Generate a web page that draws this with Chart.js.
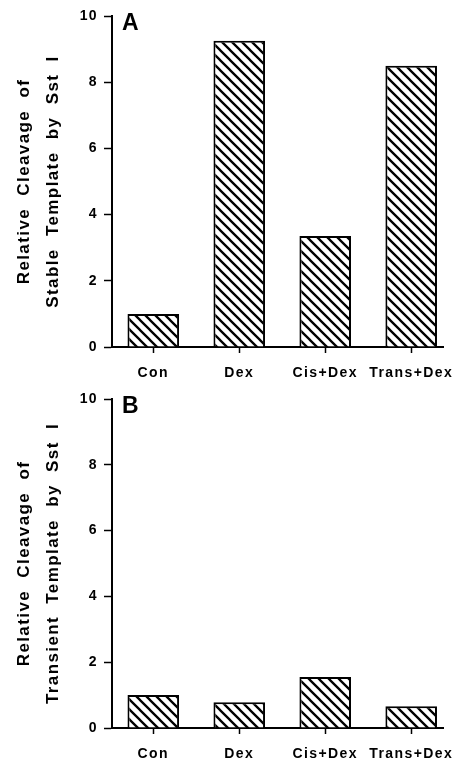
<!DOCTYPE html>
<html>
<head>
<meta charset="utf-8">
<script src="https://cdn.jsdelivr.net/npm/chart.js@4"></script>
<style>
  body { margin: 0; background: #fff; }
  .panel { position: absolute; left: 0; width: 462px; height: 380px; }
</style>
</head>
<body>
<div class="panel" style="top:0"><canvas id="chartA" width="462" height="380"></canvas></div>
<div class="panel" style="top:380px"><canvas id="chartB" width="462" height="380"></canvas></div>
<script>
// categories and values
const categories = ['Con', 'Dex', 'Cis+Dex', 'Trans+Dex'];
const stableValues = [1.0, 9.25, 3.35, 8.5];
const transientValues = [1.0, 0.78, 1.55, 0.66];
const yTicks = [0, 2, 4, 6, 8, 10];

const FONT = '"Liberation Sans", Arial, Helvetica, sans-serif';

// diagonal hatch "\\\\" like the printed bars
function makeHatch() {
    const s = 10;
    const c = document.createElement('canvas');
    c.width = s;
    c.height = s;
    const g = c.getContext('2d');
    g.fillStyle = '#fff';
    g.fillRect(0, 0, s, s);
    g.strokeStyle = '#000';
    g.lineWidth = 2.3;
    g.beginPath();
    g.moveTo(-1, -1); g.lineTo(s + 1, s + 1);
    g.moveTo(-1, s - 1); g.lineTo(1, s + 1);
    g.moveTo(s - 1, -1); g.lineTo(s + 1, 1);
    g.stroke();
    return g.createPattern(c, 'repeat');
}

const panelLetter = {
    id: 'panelLetter',
    beforeDraw(chart) {
        chart.ctx.letterSpacing = '1.4px';
    },
    afterDraw(chart, args, opts) {
        const ctx = chart.ctx;
        ctx.save();
        ctx.font = 'bold 23px ' + FONT;
        ctx.fillStyle = '#000';
        ctx.textBaseline = 'alphabetic';
        ctx.textAlign = 'left';
        ctx.fillText(opts.text, chart.chartArea.left + 10, chart.chartArea.top + 14);
        ctx.restore();
    }
};

function makeChart(id, values, letter, titleLines, padTop, xHeight) {
    const ctx = document.getElementById(id).getContext('2d');
    return new Chart(ctx, {
        type: 'bar',
        data: {
            datasets: [{
                data: values.map((v, i) => ({ x: i, y: v })),
                backgroundColor: makeHatch(),
                borderColor: '#000',
                borderWidth: 2,
                barPercentage: 0.6,
                categoryPercentage: 1.0
            }]
        },
        options: {
            responsive: false,
            animation: false,
            layout: { padding: { top: padTop, right: 19, bottom: 0, left: 0 } },
            plugins: {
                legend: { display: false },
                tooltip: { enabled: false },
                panelLetter: { text: letter }
            },
            scales: {
                x: {
                    type: 'linear',
                    offset: false,
                    min: -0.48,
                    max: 3.37,
                    afterBuildTicks: (scale) => {
                        scale.ticks = categories.map((c, i) => ({ value: i }));
                    },
                    afterFit: (scale) => { scale.height = xHeight; },
                    ticks: {
                        callback: (v) => categories[v],
                        color: '#000',
                        font: { family: FONT, size: 14, weight: 'bold' },
                        padding: 12,
                        maxRotation: 0,
                        autoSkip: false
                    },
                    grid: {
                        offset: false,
                        drawOnChartArea: false,
                        drawTicks: true,
                        tickLength: 6,
                        tickColor: '#000',
                        tickWidth: 1.5
                    },
                    border: { display: true, color: '#000', width: 2 }
                },
                y: {
                    min: 0,
                    max: 10,
                    afterBuildTicks: (scale) => {
                        scale.ticks = yTicks.map(v => ({ value: v }));
                    },
                    afterFit: (scale) => { scale.width = 112; },
                    ticks: {
                        color: '#000',
                        font: { family: FONT, size: 14, weight: 'bold' },
                        padding: 6
                    },
                    grid: {
                        drawOnChartArea: false,
                        drawTicks: true,
                        tickLength: 8,
                        tickColor: '#000',
                        tickWidth: 1.5
                    },
                    border: { display: true, color: '#000', width: 2 },
                    title: {
                        display: true,
                        text: titleLines,
                        color: '#000',
                        font: { family: FONT, size: 17, weight: 'bold', lineHeight: 1.7 },
                        padding: { top: 9.5, bottom: 0 }
                    }
                }
            }
        },
        plugins: [panelLetter]
    });
}

makeChart('chartA', stableValues, 'A',
    ['Relative  Cleavage  of', 'Stable  Template  by  Sst  I'], 16, 33);
makeChart('chartB', transientValues, 'B',
    ['Relative  Cleavage  of', 'Transient  Template  by  Sst  I'], 19, 32);
</script>
</body>
</html>
